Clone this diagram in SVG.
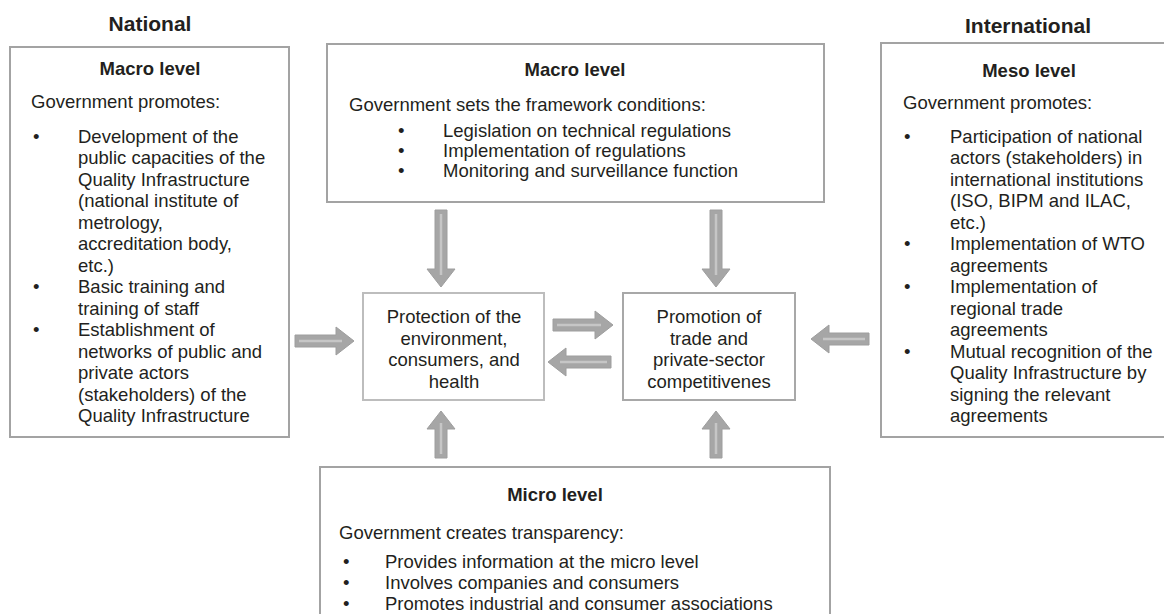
<svg xmlns="http://www.w3.org/2000/svg" width="1164" height="614" viewBox="0 0 1164 614">
  <style>
    text { font-family: "Liberation Sans", Arial, sans-serif; fill: #231f20; font-size: 18.5px; }
    .title { font-weight: bold; font-size: 21px; text-anchor: middle; }
    .head { font-weight: bold; text-anchor: middle; }
    .mid { text-anchor: middle; }
    .box { fill: #ffffff; stroke: #a3a3a3; stroke-width: 2; }
    .inner { fill: #ffffff; stroke: #bdbdbd; stroke-width: 2; }
    .inner2 { fill: #ffffff; stroke: #a8a8a8; stroke-width: 2; }
    .arrow { fill: #a6a6a6; stroke: #9e9e9e; stroke-width: 1; }
    .shine { stroke: #c6c6c6; stroke-width: 2.5; fill: none; }
  </style>

  <rect width="1164" height="614" fill="#ffffff"/>

  <text class="title" x="150" y="31">National</text>
  <text class="title" x="1028" y="33">International</text>

  <!-- National macro level -->
  <g id="national-macro">
    <rect class="box" x="10" y="47" width="279" height="390"/>
    <text class="head" x="150" y="75">Macro level</text>
    <text x="31" y="108">Government promotes:</text>
    <text x="33" y="142.5">•</text>
    <text x="78" y="142.5">Development of the</text>
    <text x="78" y="164">public capacities of the</text>
    <text x="78" y="185.5">Quality Infrastructure</text>
    <text x="78" y="207">(national institute of</text>
    <text x="78" y="228.5">metrology,</text>
    <text x="78" y="250">accreditation body,</text>
    <text x="78" y="271.5">etc.)</text>
    <text x="33" y="293">•</text>
    <text x="78" y="293">Basic training and</text>
    <text x="78" y="314.5">training of staff</text>
    <text x="33" y="336">•</text>
    <text x="78" y="336">Establishment of</text>
    <text x="78" y="357.5">networks of public and</text>
    <text x="78" y="379">private actors</text>
    <text x="78" y="400.5">(stakeholders) of the</text>
    <text x="78" y="422">Quality Infrastructure</text>
  </g>

  <!-- Framework conditions -->
  <g id="framework-macro">
    <rect class="box" x="327" y="44" width="497" height="158"/>
    <text class="head" x="575" y="76">Macro level</text>
    <text x="349" y="111">Government sets the framework conditions:</text>
    <text x="398" y="137">•</text>
    <text x="443" y="137">Legislation on technical regulations</text>
    <text x="398" y="157">•</text>
    <text x="443" y="157">Implementation of regulations</text>
    <text x="398" y="177">•</text>
    <text x="443" y="177">Monitoring and surveillance function</text>
  </g>

  <!-- International meso level -->
  <g id="international-meso">
    <rect class="box" x="881" y="43" width="290" height="394"/>
    <text class="head" x="1029" y="77">Meso level</text>
    <text x="903" y="108.5">Government promotes:</text>
    <text x="904" y="142.5">•</text>
    <text x="950" y="142.5">Participation of national</text>
    <text x="950" y="164">actors (stakeholders) in</text>
    <text x="950" y="185.5">international institutions</text>
    <text x="950" y="207">(ISO, BIPM and ILAC,</text>
    <text x="950" y="228.5">etc.)</text>
    <text x="904" y="250">•</text>
    <text x="950" y="250">Implementation of WTO</text>
    <text x="950" y="271.5">agreements</text>
    <text x="904" y="293">•</text>
    <text x="950" y="293">Implementation of</text>
    <text x="950" y="314.5">regional trade</text>
    <text x="950" y="336">agreements</text>
    <text x="904" y="357.5">•</text>
    <text x="950" y="357.5">Mutual recognition of the</text>
    <text x="950" y="379">Quality Infrastructure by</text>
    <text x="950" y="400.5">signing the relevant</text>
    <text x="950" y="422">agreements</text>
  </g>

  <!-- Protection goal -->
  <g id="protection">
    <rect class="inner" x="363" y="293" width="181" height="107"/>
    <text class="mid" x="454" y="323">Protection of the</text>
    <text class="mid" x="454" y="344.5">environment,</text>
    <text class="mid" x="454" y="366">consumers, and</text>
    <text class="mid" x="454" y="387.5">health</text>
  </g>

  <!-- Promotion goal -->
  <g id="promotion">
    <rect class="inner2" x="623" y="293" width="172" height="107"/>
    <text class="mid" x="709" y="323">Promotion of</text>
    <text class="mid" x="709" y="344.5">trade and</text>
    <text class="mid" x="709" y="366">private-sector</text>
    <text class="mid" x="709" y="387.5">competitivenes</text>
  </g>

  <!-- Micro level -->
  <g id="micro">
    <rect class="box" x="320" y="467" width="510" height="160"/>
    <text class="head" x="555" y="501">Micro level</text>
    <text x="339" y="539">Government creates transparency:</text>
    <text x="343" y="567.5">•</text>
    <text x="385" y="567.5">Provides information at the micro level</text>
    <text x="343" y="589">•</text>
    <text x="385" y="589">Involves companies and consumers</text>
    <text x="343" y="610">•</text>
    <text x="385" y="610">Promotes industrial and consumer associations</text>
  </g>

  <!-- Block arrows -->
  <g id="connectors">
    <!-- national -> protection -->
    <path class="arrow" d="M295,335 H336 V327 L354,341 L336,355 V347 H295 Z"/>
    <line class="shine" x1="299" y1="341" x2="342" y2="341"/>
    <!-- protection -> promotion -->
    <path class="arrow" d="M553,319 H595 V311 L613,325 L595,339 V331 H553 Z"/>
    <line class="shine" x1="557" y1="325" x2="601" y2="325"/>
    <!-- promotion -> protection -->
    <path class="arrow" d="M611,356 H566 V348 L548,362 L566,376 V368 H611 Z"/>
    <line class="shine" x1="607" y1="362" x2="560" y2="362"/>
    <!-- international -> promotion -->
    <path class="arrow" d="M869,333 H829 V325 L811,339 L829,353 V345 H869 Z"/>
    <line class="shine" x1="865" y1="339" x2="823" y2="339"/>
    <!-- framework -> protection -->
    <path class="arrow" d="M435,210 V269 H427 L441,287 L455,269 H447 V210 Z"/>
    <line class="shine" x1="441" y1="214" x2="441" y2="275"/>
    <!-- framework -> promotion -->
    <path class="arrow" d="M710,210 V269 H702 L716,287 L730,269 H722 V210 Z"/>
    <line class="shine" x1="716" y1="214" x2="716" y2="275"/>
    <!-- micro -> protection -->
    <path class="arrow" d="M435,458 V429 H427 L441,411 L455,429 H447 V458 Z"/>
    <line class="shine" x1="441" y1="454" x2="441" y2="423"/>
    <!-- micro -> promotion -->
    <path class="arrow" d="M710,458 V429 H702 L716,411 L730,429 H722 V458 Z"/>
    <line class="shine" x1="716" y1="454" x2="716" y2="423"/>
  </g>
</svg>
